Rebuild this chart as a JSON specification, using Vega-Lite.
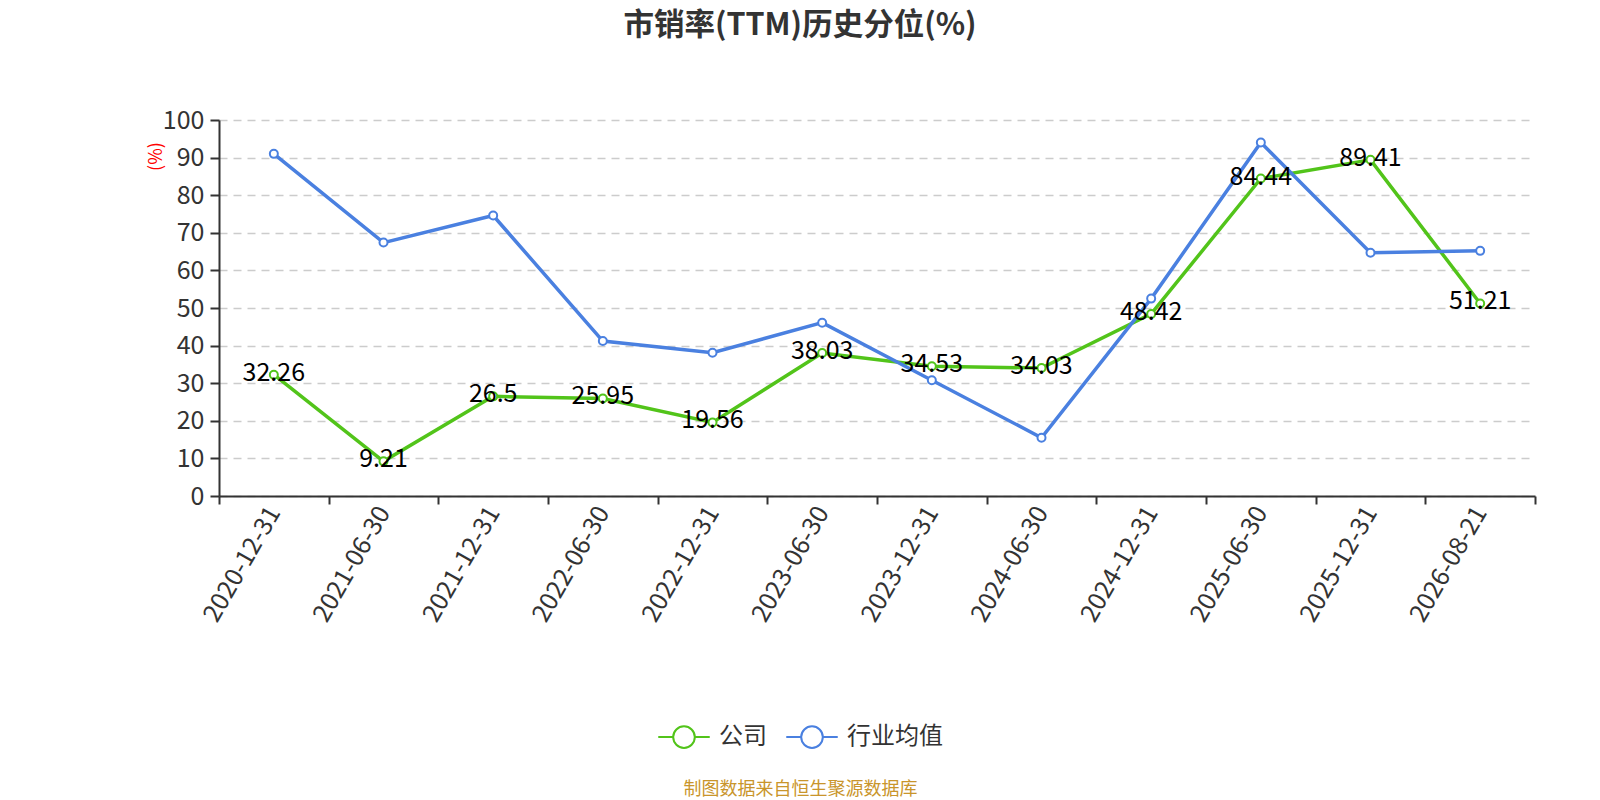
{
  "$schema": "https://vega.github.io/schema/vega-lite/v6.json",
  "autosize": "none",
  "width": 1316,
  "height": 376,
  "padding": {"left": 219, "top": 120, "right": 65, "bottom": 304},
  "background": "white",
  "config": {
    "font": "Noto Sans CJK SC",
    "view": {"stroke": null}
  },
  "title": {
    "text": "市销率(TTM)历史分位(%)",
    "fontSize": 30.5,
    "fontWeight": "bold",
    "color": "#333333",
    "anchor": "middle",
    "dx": -77,
    "offset": 67
  },
  "data": {
    "values": [
      {"date": "2020-12-31", "series": "公司", "value": 32.26},
      {"date": "2021-06-30", "series": "公司", "value": 9.21},
      {"date": "2021-12-31", "series": "公司", "value": 26.5},
      {"date": "2022-06-30", "series": "公司", "value": 25.95},
      {"date": "2022-12-31", "series": "公司", "value": 19.56},
      {"date": "2023-06-30", "series": "公司", "value": 38.03},
      {"date": "2023-12-31", "series": "公司", "value": 34.53},
      {"date": "2024-06-30", "series": "公司", "value": 34.03},
      {"date": "2024-12-31", "series": "公司", "value": 48.42},
      {"date": "2025-06-30", "series": "公司", "value": 84.44},
      {"date": "2025-12-31", "series": "公司", "value": 89.41},
      {"date": "2026-08-21", "series": "公司", "value": 51.21},
      {"date": "2020-12-31", "series": "行业均值", "value": 91.0},
      {"date": "2021-06-30", "series": "行业均值", "value": 67.4},
      {"date": "2021-12-31", "series": "行业均值", "value": 74.6},
      {"date": "2022-06-30", "series": "行业均值", "value": 41.2},
      {"date": "2022-12-31", "series": "行业均值", "value": 38.1},
      {"date": "2023-06-30", "series": "行业均值", "value": 46.1},
      {"date": "2023-12-31", "series": "行业均值", "value": 30.8},
      {"date": "2024-06-30", "series": "行业均值", "value": 15.5},
      {"date": "2024-12-31", "series": "行业均值", "value": 52.5},
      {"date": "2025-06-30", "series": "行业均值", "value": 94.0},
      {"date": "2025-12-31", "series": "行业均值", "value": 64.7},
      {"date": "2026-08-21", "series": "行业均值", "value": 65.2}
    ]
  },
  "encoding": {
    "x": {
      "field": "date",
      "type": "ordinal",
      "scale": {"type": "band", "paddingInner": 0, "paddingOuter": 0},
      "axis": {
        "title": "制图数据来自恒生聚源数据库",
        "titleColor": "#c9952b",
        "titleFontSize": 18,
        "titleFontWeight": "normal",
        "titleX": 581,
        "titleY": 293,
        "titleBaseline": "middle",
        "labelAngle": -60,
        "labelAlign": "right",
        "labelBaseline": "middle",
        "labelFontSize": 25,
        "labelColor": "#333333",
        "labelPadding": 4,
        "tickBand": "extent",
        "tickSize": 8,
        "tickWidth": 2,
        "tickColor": "#333333",
        "domainColor": "#333333",
        "domainWidth": 2,
        "grid": false
      }
    },
    "y": {
      "field": "value",
      "type": "quantitative",
      "scale": {"domain": [0, 100], "nice": false},
      "axis": {
        "title": "(%)",
        "titleColor": "red",
        "titleFontSize": 18,
        "titleFontWeight": "normal",
        "titleAngle": -90,
        "titleX": -63,
        "titleY": 36,
        "titleAlign": "center",
        "titleBaseline": "middle",
        "values": [0, 10, 20, 30, 40, 50, 60, 70, 80, 90, 100],
        "labelFontSize": 25,
        "labelColor": "#333333",
        "labelPadding": 6,
        "tickSize": 9,
        "tickWidth": 2,
        "tickColor": "#333333",
        "domainColor": "#333333",
        "domainWidth": 2,
        "grid": true,
        "gridColor": "#cccccc",
        "gridDash": [8, 6],
        "gridWidth": 1.5
      }
    },
    "color": {
      "field": "series",
      "type": "nominal",
      "scale": {"domain": ["公司", "行业均值"], "range": ["#52c41a", "#4a80e0"]},
      "legend": {
        "title": null,
        "orient": "none",
        "direction": "horizontal",
        "legendX": 438,
        "legendY": 590,
        "labelFontSize": 24,
        "labelColor": "#333333",
        "symbolType": "M-1,0L-0.42,0M0.42,0L1,0M-0.42,0A0.42,0.42 0 1,1 0.42,0A0.42,0.42 0 1,1 -0.42,0",
        "symbolSize": 2650,
        "symbolStrokeWidth": 2,
        "symbolFillColor": "white",
        "symbolOpacity": 1,
        "columnPadding": 15,
        "labelOffset": 8
      }
    }
  },
  "layer": [
    {"mark": {"type": "line", "strokeWidth": 3.5}},
    {
      "mark": {"type": "point", "filled": false, "fill": "white", "fillOpacity": 1, "size": 64, "strokeWidth": 2, "opacity": 1}
    },
    {
      "transform": [{"filter": "datum.series == '公司'"}],
      "mark": {"type": "text", "fontSize": 25, "color": "#000000", "baseline": "middle", "dy": -2},
      "encoding": {
        "text": {"field": "value", "type": "quantitative"},
        "color": {"value": "#000000"}
      }
    }
  ]
}
